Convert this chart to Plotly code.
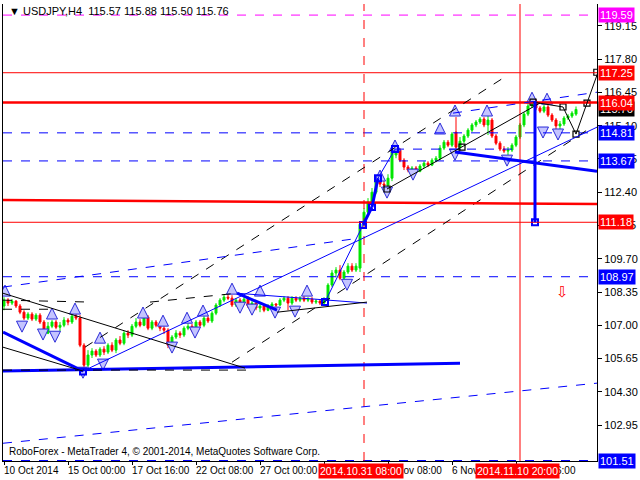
import plotly.graph_objects as go

# ---------------- data (USDJPY H4 bars, index 0 = 10 Oct 2014 08:00) ----------------
opens = [107.78,108.02,107.90,107.98,107.78,107.53,107.29,107.45,107.25,107.41,
         107.13,106.68,106.96,107.13,106.92,107.00,107.21,107.13,107.37,107.29,
         106.19,105.38,105.79,105.95,105.79,106.03,105.91,106.19,105.99,106.40,
         106.27,106.68,106.60,106.96,107.13,107.00,107.33,106.88,107.13,107.00,
         106.88,106.80,106.19,106.52,106.68,106.60,106.88,106.96,106.80,107.13,
         107.00,107.29,107.17,107.49,107.82,108.02,108.14,108.10,107.82,108.02,
         107.90,108.06,107.78,107.90,107.70,107.78,107.61,107.78,107.86,107.82,
         108.02,108.10,107.90,108.10,108.02,108.10,108.02,108.06,107.94,107.98,
         107.90,108.02,108.63,109.12,109.24,108.91,109.16,109.40,109.24,109.32,
         111.10,111.59,112.00,112.40,112.89,112.73,112.69,112.97,113.91,114.11,
         113.70,113.42,113.30,113.38,113.25,113.46,113.58,113.50,113.70,113.78,
         114.19,114.43,114.31,114.84,114.23,114.47,114.68,114.92,115.13,115.25,
         115.37,115.13,115.33,114.68,114.39,114.15,114.07,114.11,114.31,114.64,
         115.13,115.57,115.90,116.10,115.82,115.69,115.86,115.53,115.33,115.09,
         115.17,115.41,115.49,115.57]
highs = [108.14,108.10,108.06,108.02,107.86,107.61,107.53,107.53,107.49,107.49,
         107.21,107.13,107.21,107.21,107.13,107.33,107.29,107.45,107.49,107.41,
         106.27,105.99,106.07,106.03,106.11,106.15,106.27,106.31,106.48,106.56,
         106.76,106.80,107.05,107.29,107.25,107.45,107.41,107.21,107.21,107.13,
         106.96,106.88,106.60,106.80,106.76,106.96,107.09,107.05,107.21,107.21,
         107.37,107.37,107.57,107.90,108.10,108.26,108.26,108.22,108.10,108.10,
         108.14,108.18,107.98,107.98,107.86,107.86,107.86,107.94,107.90,108.10,
         108.18,108.18,108.18,108.18,108.18,108.18,108.14,108.14,108.06,108.06,
         108.14,108.71,109.24,109.36,109.44,109.24,109.52,109.52,109.52,111.19,
         111.75,112.16,112.57,113.09,113.05,112.85,113.13,114.15,114.27,114.19,
         113.78,113.50,113.46,113.46,113.54,113.66,113.66,113.78,113.87,114.31,
         114.52,114.52,114.84,115.45,114.64,114.76,115.00,115.21,115.33,115.45,
         115.45,115.61,115.41,114.76,114.47,114.27,114.23,114.39,114.72,115.21,
         115.65,115.98,116.22,116.18,115.90,115.94,115.94,115.61,115.41,115.29,
         115.49,115.57,115.69,115.88]
lows = [107.61,107.78,107.82,107.70,107.45,107.21,107.21,107.17,107.17,107.05,
        106.60,106.64,106.88,106.84,106.76,106.92,107.00,107.05,107.21,106.11,
        105.06,105.30,105.67,105.71,105.71,105.79,105.83,105.91,105.87,106.19,
        106.19,106.48,106.52,106.88,106.92,106.96,106.80,106.80,106.92,106.76,
        106.64,106.07,106.15,106.44,106.48,106.52,106.80,106.72,106.72,106.92,
        106.92,107.09,107.09,107.41,107.74,107.94,108.02,107.74,107.74,107.82,
        107.82,107.70,107.65,107.61,107.53,107.53,107.57,107.65,107.74,107.78,
        107.94,107.61,107.82,107.94,107.94,107.94,107.94,107.86,107.86,107.82,
        107.82,107.94,108.55,108.95,108.83,108.83,109.08,109.16,109.16,109.16,
        111.02,111.51,111.92,112.32,112.61,112.57,112.61,112.85,113.78,113.62,
        113.30,113.21,113.21,113.21,113.21,113.38,113.42,113.46,113.62,113.70,
        114.11,114.23,114.23,114.15,114.11,114.39,114.60,114.84,115.04,115.17,
        115.04,114.72,114.60,114.31,114.07,113.99,113.83,114.03,114.23,114.56,
        115.04,115.49,115.82,115.73,115.61,115.61,115.45,115.25,114.84,114.96,
        115.09,115.33,115.41,115.50]
closes = [108.02,107.90,107.98,107.78,107.53,107.29,107.45,107.25,107.41,107.13,
          106.68,106.96,107.13,106.92,107.00,107.21,107.13,107.37,107.29,106.19,
          105.38,105.79,105.95,105.79,106.03,105.91,106.19,105.99,106.40,106.27,
          106.68,106.60,106.96,107.13,107.00,107.33,106.88,107.13,107.00,106.88,
          106.80,106.19,106.52,106.68,106.60,106.88,106.96,106.80,107.13,107.00,
          107.29,107.17,107.49,107.82,108.02,108.14,108.10,107.82,108.02,107.90,
          108.06,107.78,107.90,107.70,107.78,107.61,107.78,107.86,107.82,108.02,
          108.10,107.90,108.10,108.02,108.10,108.02,108.06,107.94,107.98,107.90,
          108.02,108.63,109.12,109.24,108.91,109.16,109.40,109.24,109.40,111.10,
          111.59,112.00,112.40,112.89,112.73,112.69,112.97,114.03,114.11,113.70,
          113.42,113.30,113.38,113.25,113.46,113.58,113.50,113.70,113.78,114.19,
          114.43,114.31,114.76,114.23,114.47,114.68,114.92,115.13,115.25,115.37,
          115.13,115.33,114.68,114.39,114.15,114.07,114.11,114.31,114.64,115.13,
          115.57,115.90,116.10,115.82,115.69,115.86,115.53,115.33,115.09,115.17,
          115.41,115.49,115.61,115.76]
bars = list(range(len(closes)))

time_label_bars = [0, 16, 32, 48, 64, 80, 96, 112, 128]
time_labels = ["10 Oct 2014", "15 Oct 00:00", "17 Oct 16:00", "22 Oct 08:00",
               "27 Oct 00:00", "30 Oct 16:00", "3 Nov 08:00", "6 Nov 00:00", "10 Nov 16:00"]

price_ticks = [119.15, 117.80, 116.45, 115.10, 113.75, 112.40, 111.05,
               109.70, 108.35, 107.00, 105.65, 104.30, 102.95]

# horizontal levels
level_values = [119.59, 117.25, 116.04, 114.81, 113.67, 111.18, 108.97, 101.51]
level_colors = ["#ff00ff", "#ff0000", "#ff0000", "#0000ff", "#0000ff", "#ff0000", "#0000ff", "#0000ff"]
level_dashes = ["dash", "solid", "solid", "dash", "dash", "solid", "dash", "dash"]
level_widths = [1, 1, 2.5, 1, 1, 1, 1, 1]
current_price = 115.76

# vertical time lines
vline_bars = [90, 129]
vline_texts = ["2014.10.31 08:00", "2014.11.10 20:00"]
vline_dashes = ["dash", "solid"]

# trend lines: (bar0, price0, bar1, price1, colour, width, dash)
trend_lines = [
    (-0.25, 105.14, 114.0, 105.46, "#0000ff", 3, "solid"),
    (-0.25, 105.18, 61.5, 105.18, "#000000", 1, "dash"),
    (-0.25, 106.72, 19.75, 105.14, "#0000ff", 3, "solid"),
    (-0.25, 108.30, 60.25, 105.26, "#000000", 1, "solid"),
    (-0.25, 106.11, 19.75, 105.14, "#000000", 1, "solid"),
    (-0.25, 108.02, 22.0, 107.94, "#000000", 1, "dash"),
    (-0.25, 107.65, 11.5, 107.65, "#000000", 1, "dash"),
    (20.25, 106.11, 124.75, 117.03, "#000000", 1, "dash"),
    (57.0, 105.50, 146.5, 115.00, "#000000", 1, "dash"),
    (36.5, 107.94, 58.25, 108.30, "#000000", 1, "dash"),
    (58.25, 108.30, 90.75, 107.90, "#0000ff", 1, "solid"),
    (58.25, 108.30, 68.25, 107.61, "#0000ff", 3, "solid"),
    (68.25, 107.53, 90.75, 107.94, "#000000", 1, "solid"),
    (19.75, 105.14, 148.25, 115.04, "#0000ff", 1, "solid"),
    (-0.25, 108.55, 89.0, 110.54, "#0000ff", 1, "dash"),
    (-0.25, 102.21, 148.25, 104.65, "#0000ff", 1, "dash"),
    (-0.25, 112.08, 148.25, 111.92, "#ff0000", 2.5, "solid"),
    (112.75, 114.03, 148.25, 113.25, "#0000ff", 3, "solid"),
    (112.25, 115.61, 148.25, 116.46, "#0000ff", 1, "dash"),
    (97.75, 114.15, 129.0, 114.15, "#0000ff", 1, "dash"),
    (80.25, 107.94, 89.75, 111.07, "#0000ff", 1, "solid"),
    (89.75, 111.07, 92.0, 111.80, "#0000ff", 3, "solid"),
    (92.0, 111.80, 93.5, 112.97, "#0000ff", 3, "solid"),
    (93.5, 112.97, 97.75, 114.15, "#0000ff", 1, "solid"),
    (95.75, 112.53, 134.0, 116.02, "#000000", 1, "solid"),
    (132.25, 116.06, 139.75, 115.86, "#000000", 1, "solid"),
    (139.75, 115.86, 143.0, 114.76, "#000000", 1, "solid"),
    (143.0, 114.76, 145.75, 116.02, "#000000", 1, "solid"),
    (145.75, 116.02, 148.5, 117.27, "#000000", 1, "solid"),
    (132.75, 116.10, 132.75, 111.18, "#0000ff", 3, "solid"),
]

# fractal arrows
up_bars = [0.25, 12, 17.75, 24, 34.75, 39.75, 45.75, 49.75, 57, 64, 75.75, 94, 97.75, 109, 112.75, 120.75, 132, 135.75]
up_prices = [108.63, 107.70, 107.90, 106.72, 107.74, 107.41, 107.53, 107.82, 108.71, 108.63, 108.63,
             113.30, 114.52, 115.21, 115.94, 115.94, 116.46, 116.42]
down_bars = [4.5, 9.75, 12.75, 19.75, 24.75, 42, 47.75, 59, 62, 67.75, 72.75, 85.75, 95.75, 102.25, 112.75, 125.75, 134.75, 138.5]
down_prices = [106.72, 106.40, 106.31, 104.85, 105.18, 105.87, 106.48, 107.49, 107.41, 107.29, 107.33,
               108.42, 112.16, 112.89, 113.70, 113.46, 114.60, 114.52]

# zigzag squares
blue_sq_bars = [19.75, 80.25, 89.75, 92.0, 93.5, 97.75, 132.75]
blue_sq_prices = [105.12, 107.94, 111.07, 111.80, 112.97, 114.15, 111.18]
black_sq_bars = [95.75, 114.5, 132.25, 139.75, 143.0, 145.75, 148.2]
black_sq_prices = [112.53, 114.23, 116.06, 115.86, 114.76, 116.02, 117.27]

signal_bar, signal_price = 139.5, 108.34

FONT = "Liberation Sans"

fig = go.Figure()

fig.add_trace(go.Candlestick(
    x=bars, open=opens, high=highs, low=lows, close=closes,
    increasing=dict(line=dict(color="#00e600", width=1), fillcolor="#00e600"),
    decreasing=dict(line=dict(color="#ff0000", width=1), fillcolor="#ff0000"),
    whiskerwidth=0, hoverinfo="skip", showlegend=False))

fig.add_trace(go.Scatter(x=up_bars, y=up_prices, mode="markers",
    marker=dict(symbol="arrow-up", size=11, color="#c4c4ff", line=dict(color="#2a2ad8", width=1)),
    hoverinfo="skip", showlegend=False))
fig.add_trace(go.Scatter(x=down_bars, y=down_prices, mode="markers",
    marker=dict(symbol="arrow-down", size=11, color="#c4c4ff", line=dict(color="#2a2ad8", width=1)),
    hoverinfo="skip", showlegend=False))
fig.add_trace(go.Scatter(x=blue_sq_bars, y=blue_sq_prices, mode="markers",
    marker=dict(symbol="square-open", size=6, color="#0000ff", line=dict(width=2)),
    hoverinfo="skip", showlegend=False))
fig.add_trace(go.Scatter(x=black_sq_bars, y=black_sq_prices, mode="markers",
    marker=dict(symbol="square-open", size=6, color="#000000", line=dict(width=1.2)),
    hoverinfo="skip", showlegend=False))

shapes = []
for v, c, d, w in zip(level_values, level_colors, level_dashes, level_widths):
    shapes.append(dict(type="line", xref="paper", x0=0, x1=1, yref="y", y0=v, y1=v,
                       line=dict(color=c, width=w, dash=d)))
for b, d in zip(vline_bars, vline_dashes):
    shapes.append(dict(type="line", xref="x", x0=b, x1=b, yref="paper", y0=0, y1=1,
                       line=dict(color="#ff0000", width=1, dash=d)))
for (b0, p0, b1, p1, c, w, d) in trend_lines:
    shapes.append(dict(type="line", xref="x", yref="y", x0=b0, y0=p0, x1=b1, y1=p1,
                       line=dict(color=c, width=w, dash=d)))

ann = []
ann.append(dict(xref="paper", yref="paper", x=0, y=1, xanchor="left", yanchor="top",
                xshift=4, yshift=1, showarrow=False,
                text="▼ USDJPY,H4\u00a0\u00a0115.57 115.88 115.50 115.76",
                font=dict(family=FONT, size=11, color="#000000")))
ann.append(dict(xref="paper", yref="paper", x=0, y=0, xanchor="left", yanchor="bottom",
                xshift=4, yshift=2, showarrow=False,
                text="RoboForex - MetaTrader 4, © 2001-2014, MetaQuotes Software Corp.",
                font=dict(family=FONT, size=10, color="#000000")))
for b, t in zip(time_label_bars, time_labels):
    ann.append(dict(xref="x", yref="paper", x=b, y=0, xanchor="left", yanchor="top",
                    xshift=-2, yshift=-2, showarrow=False, text=t,
                    font=dict(family=FONT, size=10, color="#000000")))
for b, t in zip(vline_bars, vline_texts):
    ann.append(dict(xref="x", yref="paper", x=b, y=0, xanchor="center", yanchor="top",
                    xshift=-3, yshift=-2, showarrow=False, text=t, bgcolor="#ff0000",
                    borderpad=1, font=dict(family=FONT, size=10.5, color="#ffffff")))
ann.append(dict(xref="paper", yref="y", x=1, y=current_price, xanchor="left", yanchor="middle",
                xshift=1, showarrow=False, text=f"{current_price:.2f}", bgcolor="#000000",
                borderpad=1, font=dict(family=FONT, size=11, color="#ffffff")))
for v, c in zip(level_values, level_colors):
    ann.append(dict(xref="paper", yref="y", x=1, y=v, xanchor="left", yanchor="middle",
                    xshift=1, showarrow=False, text=f"{v:.2f}", bgcolor=c,
                    borderpad=1, font=dict(family=FONT, size=11, color="#ffffff")))
ann.append(dict(xref="x", yref="y", x=signal_bar, y=signal_price, showarrow=False,
                text="⇩", font=dict(family="DejaVu Sans", size=15, color="#ff0000")))

fig.update_layout(
    width=640, height=480,
    margin=dict(l=3, r=43, t=4, b=19, autoexpand=False),
    paper_bgcolor="white", plot_bgcolor="white", showlegend=False,
    shapes=shapes, annotations=ann,
    xaxis=dict(range=[-0.25, 148.25], showgrid=False, zeroline=False,
               showline=True, linecolor="#000000", linewidth=1,
               tickvals=time_label_bars, ticktext=[""] * len(time_label_bars),
               ticks="outside", ticklen=3, tickcolor="#000000",
               rangeslider=dict(visible=False), fixedrange=True, automargin=False),
    yaxis=dict(side="right", range=[101.49, 120.04], showgrid=False, zeroline=False,
               showline=True, mirror=True, linecolor="#000000", linewidth=1,
               tickvals=price_ticks, ticktext=[f"{v:.2f}" for v in price_ticks],
               ticks="outside", ticklen=4, tickcolor="#000000",
               tickfont=dict(family=FONT, size=11, color="#000000"),
               fixedrange=True, automargin=False),
)

fig.write_html("out.html", config={"displayModeBar": False},
               post_script="document.body.style.margin='0';document.body.style.overflow='hidden';")
